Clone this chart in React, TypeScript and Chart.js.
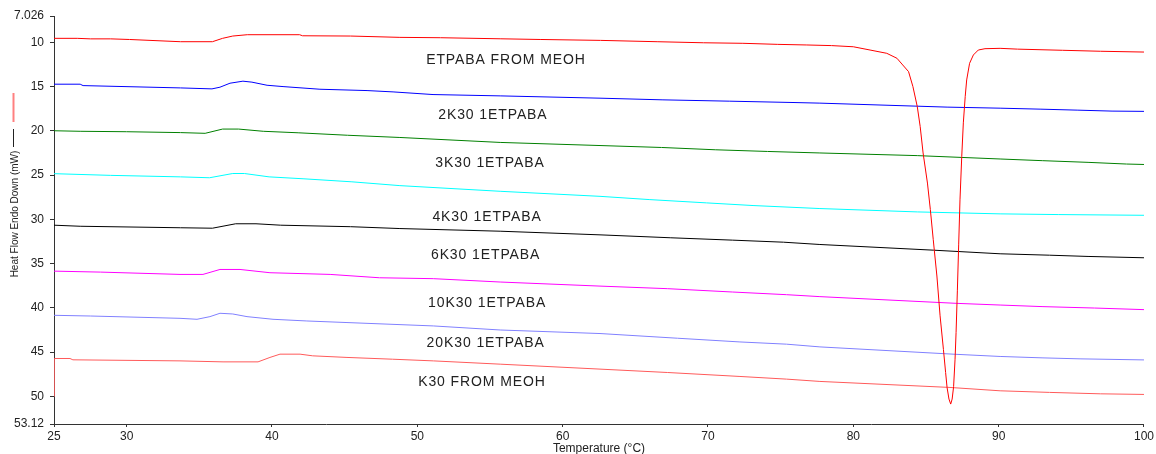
import React, { useEffect, useRef } from "react";
import { Chart, registerables } from "chart.js";

Chart.register(...registerables);

const FONT = '"Liberation Sans", Arial, Helvetica, sans-serif';

// Axis ticks
const xTicks = [25, 30, 40, 50, 60, 70, 80, 90, 100];
const yTicks = [7.026, 10, 15, 20, 25, 30, 35, 40, 45, 50, 53.12];
const xMin = 25;
const xMax = 100;
const yMin = 7.026;
const yMax = 53.12;

// Series names
const seriesNames = [
  "ETPABA FROM MEOH",
  "2K30 1ETPABA",
  "3K30 1ETPABA",
  "4K30 1ETPABA",
  "6K30 1ETPABA",
  "10K30 1ETPABA",
  "20K30 1ETPABA",
  "K30 FROM MEOH",
];

// In-plot label anchor (temperature °C, heat flow mW)
const labelTemps = [56.1, 55.2, 55.0, 54.8, 54.7, 54.8, 54.7, 54.45];
const labelFlows = [12.0, 18.2, 23.7, 29.8, 34.0, 39.5, 44.0, 48.4];

// Series values: [temperature °C, heat flow mW]
const etpabaFromMeoh: [number, number][] = [
  [25, 9.55], [26.6, 9.55], [27.5, 9.61], [28.9, 9.61], [30.2, 9.68], [33.7, 9.93],
  [35.9, 9.93], [36.6, 9.55], [37.3, 9.29], [38.3, 9.14], [41.9, 9.14], [42.1, 9.26],
  [45.4, 9.29], [48.8, 9.44], [51.6, 9.48], [55.7, 9.6], [58.5, 9.68], [62.6, 9.78],
  [66.5, 9.93], [69.7, 10.05], [72.4, 10.11], [74.8, 10.23], [76.8, 10.3], [78.5, 10.37],
  [80.0, 10.5], [81.15, 10.87], [82.3, 11.24], [83.0, 11.8], [83.4, 12.56], [83.8, 13.31],
  [84.1, 15.0], [84.4, 17.26], [84.6, 19.51], [84.8, 22.5], [85.1, 25.9], [85.3, 28.9],
  [85.5, 32.3], [85.75, 36.4], [85.97, 40.9], [86.2, 44.7], [86.35, 47.3], [86.45, 49.0],
  [86.58, 50.3], [86.7, 50.87], [86.8, 50.3], [86.9, 48.9], [87.0, 45.8], [87.07, 42.8],
  [87.16, 38.0], [87.25, 32.8], [87.34, 27.8], [87.46, 22.9], [87.57, 19.1], [87.7, 16.1],
  [87.8, 14.25], [88.0, 12.37], [88.26, 11.43], [88.6, 10.87], [89.06, 10.72], [90.1, 10.68],
  [91.3, 10.77], [94.4, 10.9], [97.0, 11.01], [100, 11.1],
];
const k30_2_etpaba_1: [number, number][] = [
  [25, 14.73], [26.8, 14.73], [27.0, 14.89], [33.7, 15.15], [35.87, 15.26], [36.42, 15.07],
  [37.11, 14.62], [38.0, 14.39], [38.62, 14.5], [39.66, 14.85], [40.76, 15.0], [43.3, 15.3],
  [46.54, 15.45], [48.33, 15.6], [51.08, 15.9], [55.7, 16.05], [62.57, 16.31], [66.9, 16.5],
  [71.5, 16.65], [75.85, 16.8], [77.7, 16.87], [86.45, 17.32], [90.1, 17.44], [92.85, 17.55],
  [95.4, 17.66], [97.8, 17.77], [100, 17.8],
];
const k30_3_etpaba_1: [number, number][] = [
  [25, 19.99], [26.8, 20.05], [30, 20.1], [33.7, 20.2], [35.4, 20.28], [36.6, 19.8],
  [37.7, 19.8], [39.4, 20.05], [41.8, 20.22], [45.2, 20.5], [48.8, 20.75], [55.7, 21.31],
  [62.57, 21.66], [66.8, 21.88], [70.5, 22.14], [74.1, 22.33], [77.7, 22.5], [84.4, 22.8],
  [90.1, 23.18], [93.0, 23.37], [96.15, 23.56], [98.8, 23.75], [100, 23.8],
];
const k30_4_etpaba_1: [number, number][] = [
  [25, 24.84], [28.9, 25.03], [33.7, 25.2], [35.7, 25.3], [37.3, 24.82], [38.1, 24.82],
  [39.8, 25.2], [42.2, 25.42], [45.5, 25.76], [48.8, 26.19], [55.7, 26.83], [62.57, 27.4],
  [66.0, 27.77], [69.9, 28.14], [73.1, 28.44], [77.7, 28.78], [84.4, 29.16], [90.1, 29.38],
  [94.1, 29.46], [100, 29.54],
];
const k30_6_etpaba_1: [number, number][] = [
  [25, 30.66], [26.8, 30.78], [33.7, 30.95], [35.9, 31.0], [37.5, 30.5], [38.9, 30.5],
  [40.6, 30.66], [45.4, 30.83], [48.8, 31.04], [55.7, 31.34], [62.57, 31.75], [67.4, 32.08],
  [71.7, 32.35], [75.2, 32.58], [77.7, 32.84], [85.5, 33.48], [90.1, 33.89], [93.5, 34.05],
  [96.15, 34.19], [100, 34.34],
];
const k30_10_etpaba_1: [number, number][] = [
  [25, 35.85], [28.2, 35.96], [33.67, 36.22], [35.25, 36.22], [36.42, 35.66], [37.8, 35.66],
  [39.86, 36.03], [44.0, 36.22], [47.4, 36.6], [51.1, 36.7], [55.7, 37.08], [62.57, 37.54],
  [67.2, 37.83], [71.7, 38.21], [75.4, 38.51], [77.7, 38.73], [87.1, 39.49], [90.1, 39.68],
  [93.05, 39.86], [96.6, 40.02], [100, 40.2],
];
const k30_20_etpaba_1: [number, number][] = [
  [25, 40.84], [27.5, 40.92], [33.67, 41.18], [34.84, 41.29], [35.73, 40.99], [36.42, 40.61],
  [37.3, 40.69], [38.28, 40.99], [40.07, 41.29], [42.4, 41.48], [45.16, 41.66], [51.1, 42.04],
  [55.7, 42.5], [62.57, 42.9], [67.9, 43.43], [72.2, 43.85], [75.4, 44.1], [77.7, 44.41],
  [86.86, 45.23], [90.1, 45.49], [93.05, 45.65], [95.6, 45.76], [100, 45.88],
];
const k30FromMeoh: [number, number][] = [
  [25, 50.0], [25.02, 45.72], [26.1, 45.72], [26.3, 45.87], [33.67, 45.99], [36.63, 46.1],
  [39.04, 46.1], [39.86, 45.6], [40.55, 45.23], [41.93, 45.23], [42.8, 45.42], [45.16, 45.6],
  [48.3, 45.8], [51.1, 45.99], [55.7, 46.36], [62.57, 46.92], [67.2, 47.3], [72.2, 47.75],
  [75.4, 48.05], [77.7, 48.31], [86.65, 48.99], [90.1, 49.37], [93.5, 49.55], [97.0, 49.71],
  [100, 49.78],
];

const seriesData = [
  etpabaFromMeoh,
  k30_2_etpaba_1,
  k30_3_etpaba_1,
  k30_4_etpaba_1,
  k30_6_etpaba_1,
  k30_10_etpaba_1,
  k30_20_etpaba_1,
  k30FromMeoh,
];
const seriesColors = [
  "#ff0000",
  "#0000ff",
  "#008000",
  "#00ffff",
  "#000000",
  "#ff00ff",
  "#8080ff",
  "#ff5a5a",
];

const xTitle = "Temperature (°C)";
const yTitle = "Heat Flow Endo Down (mW)";

const extrasPlugin = {
  id: "extras",
  afterDatasetsDraw(chart: any) {
    const { ctx, chartArea } = chart;
    const xs = chart.scales.x;
    const ys = chart.scales.y;
    ctx.save();
    // in-plot series labels
    ctx.font = `14px ${FONT}`;
    try {
      (ctx as any).letterSpacing = "0.9px";
    } catch (e) {}
    ctx.fillStyle = "#222";
    ctx.textAlign = "center";
    ctx.textBaseline = "middle";
    seriesNames.forEach((name, i) => {
      ctx.fillText(name, xs.getPixelForValue(labelTemps[i]), ys.getPixelForValue(labelFlows[i]));
    });
    try {
      (ctx as any).letterSpacing = "0px";
    } catch (e) {}
    // x axis title
    ctx.font = `12px ${FONT}`;
    ctx.fillStyle = "#222";
    ctx.fillText(xTitle, (chartArea.left + chartArea.right) / 2, 449);
    // y axis title
    ctx.save();
    ctx.translate(15, 214);
    ctx.rotate(-Math.PI / 2);
    ctx.font = `10px ${FONT}`;
    ctx.fillText(yTitle, 0, 0);
    ctx.restore();
    // curve markers next to the y title
    ctx.strokeStyle = "#ff8080";
    ctx.lineWidth = 2;
    ctx.beginPath();
    ctx.moveTo(13.5, 93);
    ctx.lineTo(13.5, 122);
    ctx.stroke();
    ctx.strokeStyle = "#222";
    ctx.lineWidth = 1;
    ctx.beginPath();
    ctx.moveTo(13.5, 129);
    ctx.lineTo(13.5, 147);
    ctx.stroke();
    ctx.restore();
  },
};

export default function App() {
  const ref = useRef<HTMLCanvasElement>(null);
  useEffect(() => {
    if (!ref.current) return;
    const chart = new Chart(ref.current, {
      type: "line",
      data: {
        datasets: seriesData.map((pts, i) => ({
          label: seriesNames[i],
          data: pts.map(([x, y]) => ({ x, y })),
          borderColor: seriesColors[i],
          backgroundColor: seriesColors[i],
          borderWidth: 1,
          pointRadius: 0,
          tension: 0,
          fill: false,
        })),
      },
      options: {
        animation: false,
        responsive: false,
        devicePixelRatio: 1,
        layout: { padding: { top: 16, right: 12, left: 0, bottom: 0 } },
        plugins: {
          legend: { display: false },
          tooltip: { enabled: false },
        },
        scales: {
          x: {
            type: "linear",
            min: xMin,
            max: xMax,
            afterBuildTicks: (s: any) => {
              s.ticks = xTicks.map((v) => ({ value: v }));
            },
            afterFit: (s: any) => {
              s.height = 30;
            },
            border: { display: true, color: "#333", width: 1 },
            grid: { drawOnChartArea: false, drawTicks: true, tickLength: 3, color: "#333" },
            ticks: {
              font: { family: FONT, size: 12 },
              color: "#222",
              padding: 2,
              maxRotation: 0,
              autoSkip: false,
              callback: (v: any) => String(v),
            },
          },
          y: {
            type: "linear",
            reverse: true,
            min: yMin,
            max: yMax,
            afterBuildTicks: (s: any) => {
              s.ticks = yTicks.map((v) => ({ value: v }));
            },
            afterFit: (s: any) => {
              s.width = 54;
            },
            border: { display: true, color: "#333", width: 1 },
            grid: { drawOnChartArea: false, drawTicks: true, tickLength: 4, color: "#333" },
            ticks: {
              font: { family: FONT, size: 12 },
              color: "#222",
              padding: 6,
              autoSkip: false,
              callback: (v: any) => String(v),
            },
          },
        },
      },
      plugins: [extrasPlugin],
    } as any);
    return () => chart.destroy();
  }, []);
  return (
    <div style={{ position: "fixed", left: 0, top: 0, width: 1156, height: 454, background: "#fff" }}>
      <canvas ref={ref} width={1156} height={454} style={{ display: "block" }} />
    </div>
  );
}
